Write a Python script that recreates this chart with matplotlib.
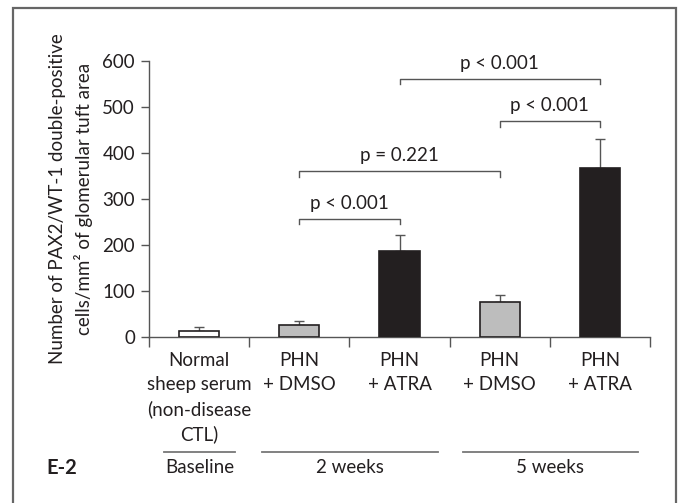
import matplotlib.pyplot as plt
import matplotlib.transforms as mtransforms
from matplotlib.patches import Rectangle

plt.rcParams['font.family'] = ['Lato', 'DejaVu Sans']

# data
groups = ["Normal\nsheep serum\n(non-disease\nCTL)", "PHN\n+ DMSO", "PHN\n+ ATRA",
          "PHN\n+ DMSO", "PHN\n+ ATRA"]
means = [12, 26, 186, 75, 367]
errs = [9, 8, 36, 17, 63]
fills = ["white", "#bdbdbd", "#231f20", "#bdbdbd", "#231f20"]

# (left bar, right bar, bracket height, label)
comparisons = [(1, 2, 257, "p < 0.001"),
               (1, 3, 360, "p = 0.221"),
               (3, 4, 469, "p < 0.001"),
               (2, 4, 561, "p < 0.001")]

periods = ["Baseline", "2 weeks", "5 weeks"]
period_spans = [(-0.35, 0.36), (0.63, 2.38), (2.63, 4.38)]

axis_col = "#555555"
txt_col = "#231f20"
fs = 13.5

fig = plt.figure(figsize=(6.8, 5.03), dpi=100)
ax = fig.add_axes([0.219, 0.330, 0.737, 0.549])

x = range(len(means))
ax.bar(x, means, width=0.4, color=fills, edgecolor="#231f20", linewidth=1.2, zorder=3)
ax.errorbar(x, means, yerr=[[0] * len(errs), errs], fmt="none", ecolor=axis_col,
            elinewidth=1, capsize=3.5, capthick=1, zorder=2)

ax.set_xlim(-0.5, 4.5)
ax.set_ylim(0, 600)
ax.set_yticks(range(0, 601, 100))
ax.set_xticks([-0.5, 0.5, 1.5, 2.5, 3.5, 4.5])
ax.set_xticklabels([])
ax.set_xticks(list(x), minor=True)
ax.set_xticklabels(groups, minor=True, fontsize=fs, linespacing=1.48, color=txt_col)
ax.tick_params(axis="x", which="minor", length=0, pad=11)
ax.tick_params(axis="x", which="major", length=7, width=1, color=axis_col)
ax.tick_params(axis="y", length=6, width=1, color=axis_col, labelsize=fs,
               labelcolor=txt_col, pad=4)
for side in ["top", "right"]:
    ax.spines[side].set_visible(False)
for side in ["left", "bottom"]:
    ax.spines[side].set_color(axis_col)
    ax.spines[side].set_linewidth(1)

ax.set_ylabel("Number of PAX2/WT-1 double-positive\ncells/mm² of glomerular tuft area",
              fontsize=fs, linespacing=1.5, color=txt_col, labelpad=7)

# significance brackets
for a, b, h, lab in comparisons:
    ax.plot([a, a, b, b], [h - 12, h, h, h - 12], color=axis_col, lw=1, clip_on=False)
    ax.text((a + b) / 2, h + 15, lab, ha="center", va="bottom", fontsize=fs,
            color=txt_col)

# period lines and labels below the axis
trans = mtransforms.blended_transform_factory(ax.transData, fig.transFigure)
for (x0, x1), lab in zip(period_spans, periods):
    ax.plot([x0, x1], [0.1014, 0.1014], transform=trans, color="#777777", lw=1.3,
            clip_on=False)
    ax.text((x0 + x1) / 2, 0.0696, lab, transform=trans, ha="center", va="center",
            fontsize=fs, color=txt_col)

fig.text(0.068, 0.0696, "E-2", ha="left", va="center", fontsize=14.5,
         fontweight="bold", color=txt_col)

# outer frame
fig.patches.append(Rectangle((0.019, -0.1), 0.975, 1.085, transform=fig.transFigure,
                             fill=False, edgecolor="#666666", linewidth=1.6))

fig.savefig("out.png", dpi=100)
